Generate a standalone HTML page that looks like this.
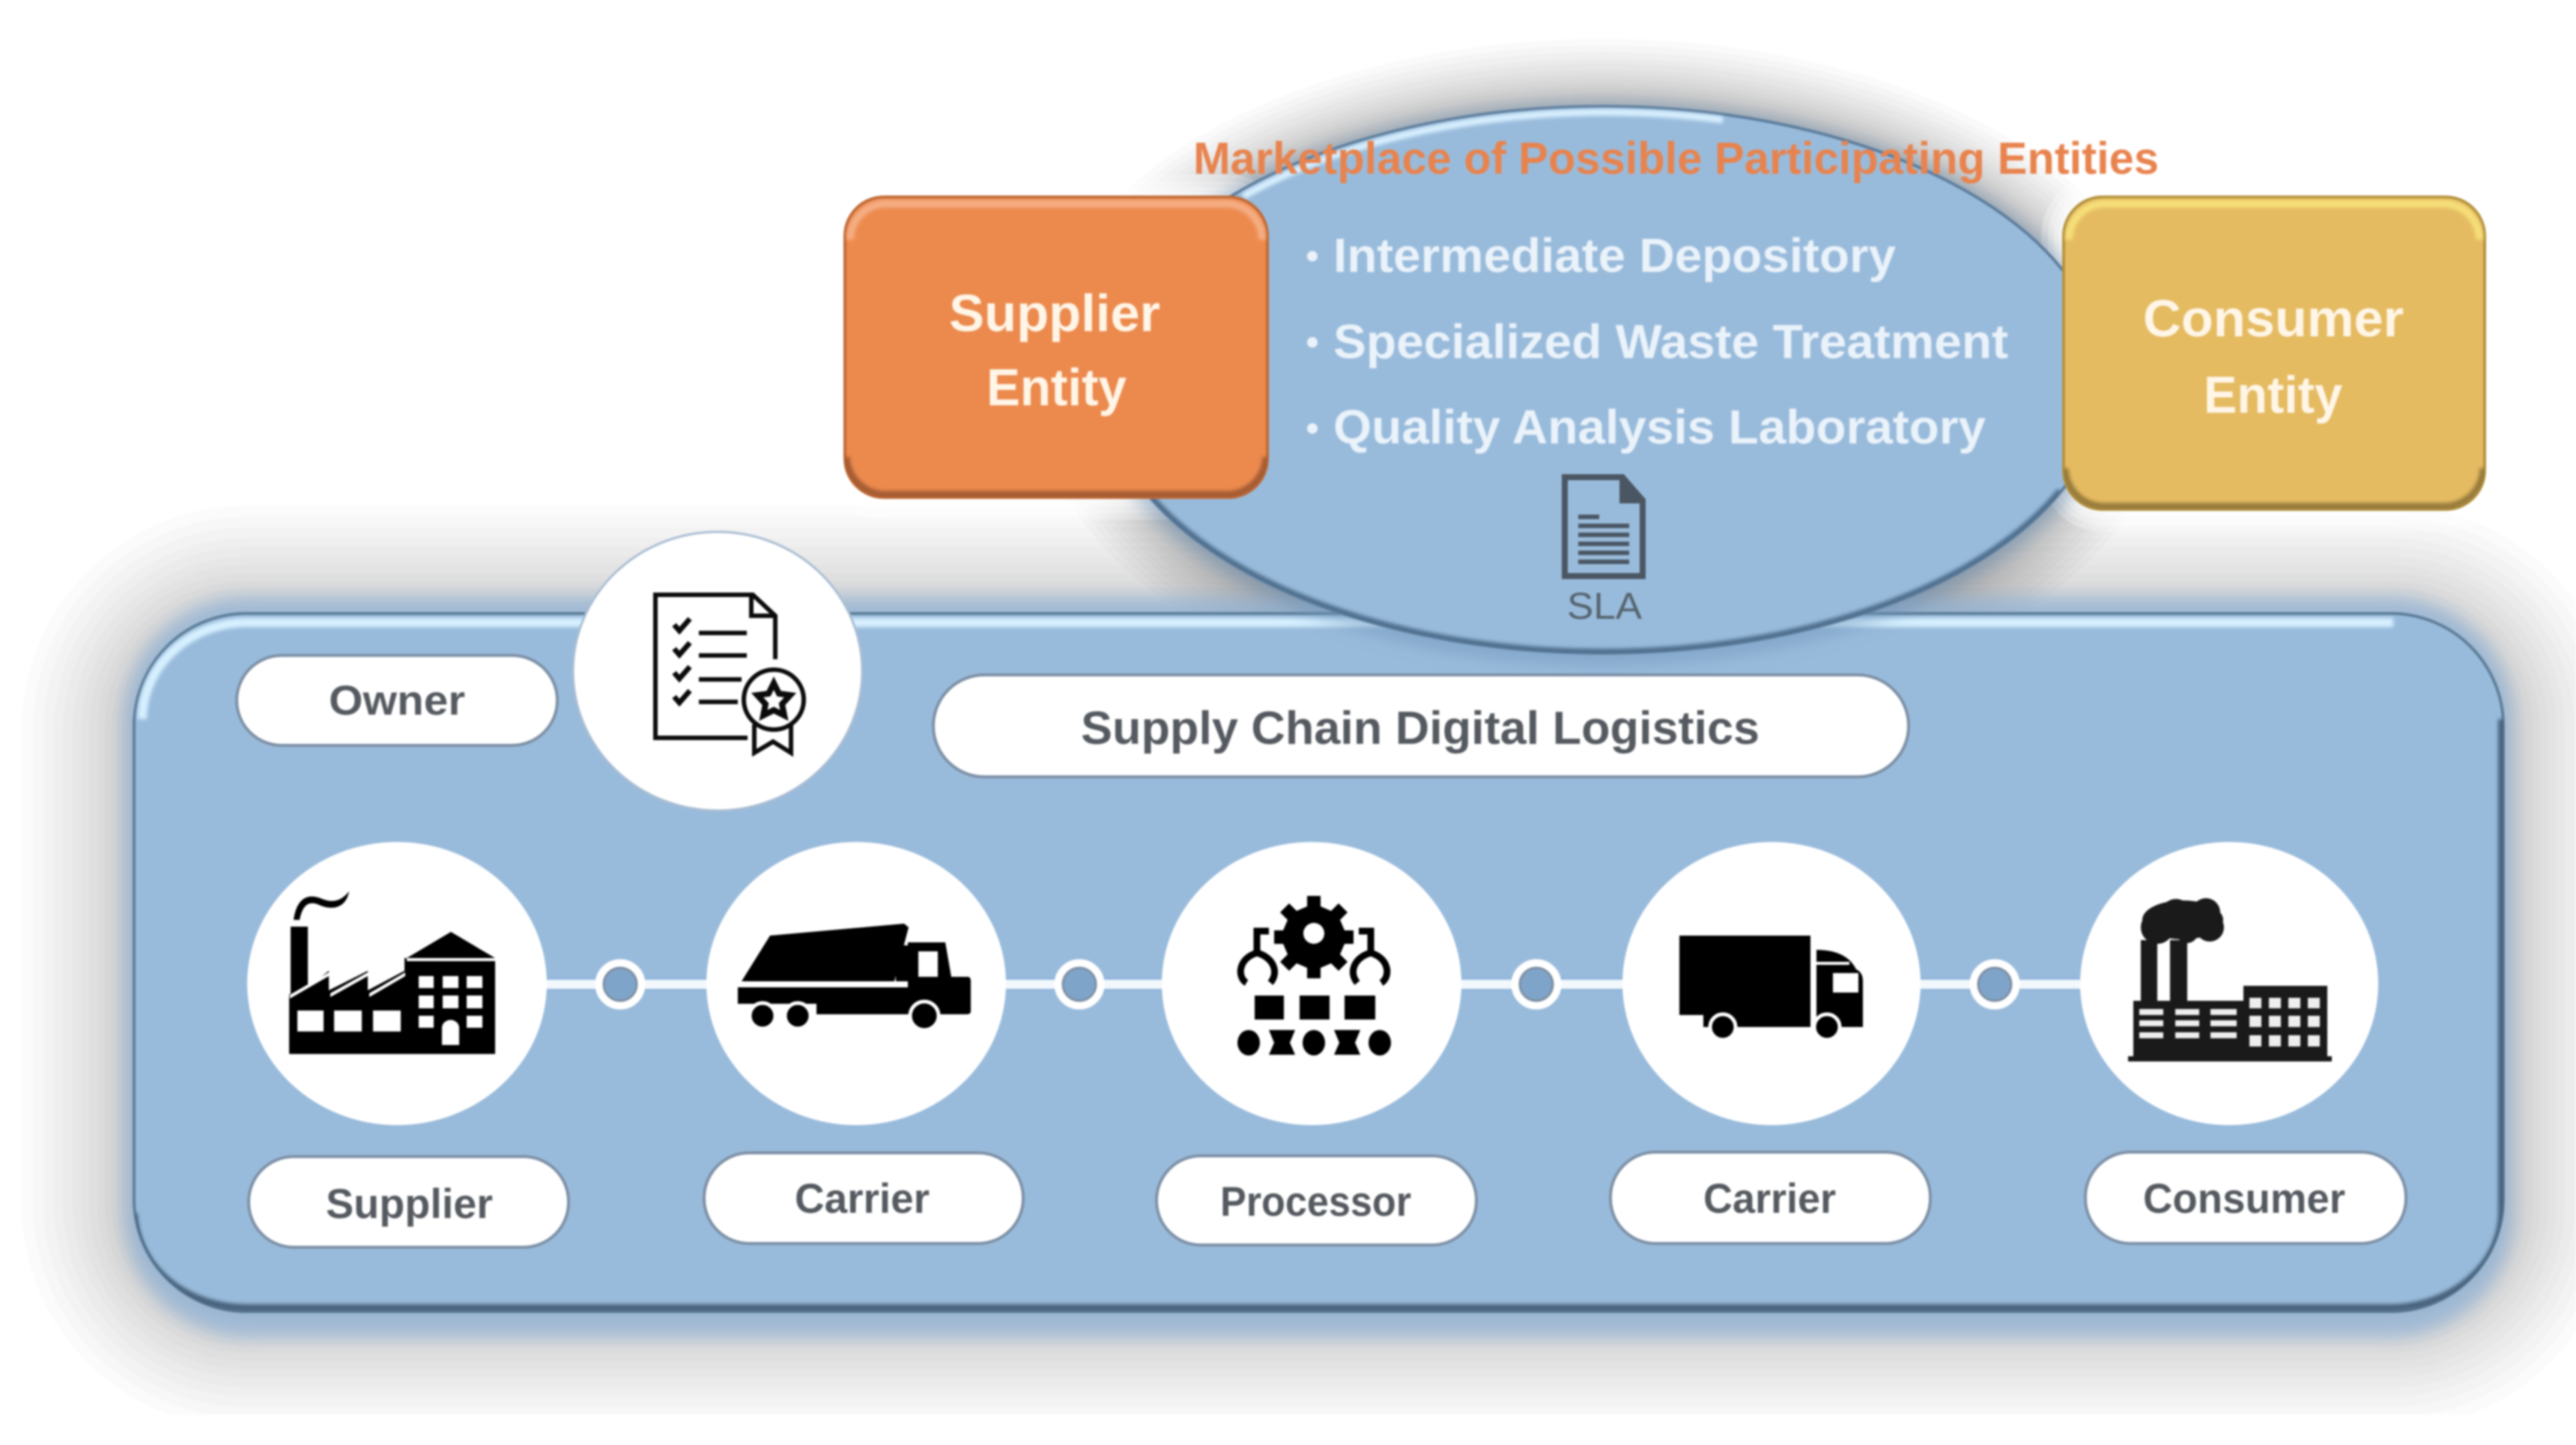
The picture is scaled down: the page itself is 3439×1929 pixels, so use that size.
<!DOCTYPE html>
<html>
<head>
<meta charset="utf-8">
<style>
html,body{margin:0;padding:0;background:#fff;width:3439px;height:1929px;overflow:hidden}
svg{display:block;position:absolute;left:0;top:0;filter:blur(1.3px)}
text{font-family:"Liberation Sans",sans-serif;font-weight:bold}
.lb{fill:#555a60;font-size:56px}
.wt{fill:#eaf2fa;font-size:64px}
.bx{fill:#fff6e8;font-size:70px}
</style>
</head>
<body>
<svg width="3439" height="1929" viewBox="0 0 3439 1929" xmlns="http://www.w3.org/2000/svg">
<defs>
<filter id="b16" filterUnits="userSpaceOnUse" x="-200" y="-200" width="3900" height="2400"><feGaussianBlur stdDeviation="11"/></filter>
<filter id="b3" filterUnits="userSpaceOnUse" x="-200" y="-200" width="3900" height="2400"><feGaussianBlur stdDeviation="2.5"/></filter>
<clipPath id="page"><rect x="0" y="0" width="3439" height="1888"/></clipPath>
<clipPath id="cm"><rect x="179" y="819" width="3163" height="932" rx="150"/></clipPath>
<clipPath id="ce"><ellipse cx="2140" cy="507" rx="670" ry="365"/></clipPath>
<clipPath id="co"><rect x="1128" y="263" width="564" height="401" rx="52"/></clipPath>
<clipPath id="cy"><rect x="2755" y="263" width="562" height="417" rx="52"/></clipPath>
</defs>
<rect width="3439" height="1929" fill="#fff"/>

<!-- soft gray shadows built from concentric strokes -->
<g clip-path="url(#page)" fill="none" stroke="#000" stroke-opacity=".016">
<g>
<rect x="179" y="825" width="3163" height="932" rx="150" stroke-width="3"/>
<rect x="179" y="825" width="3163" height="932" rx="150" stroke-width="10"/>
<rect x="179" y="825" width="3163" height="932" rx="150" stroke-width="20"/>
<rect x="179" y="825" width="3163" height="932" rx="150" stroke-width="32"/>
<rect x="179" y="825" width="3163" height="932" rx="150" stroke-width="46"/>
<rect x="179" y="825" width="3163" height="932" rx="150" stroke-width="60"/>
<rect x="179" y="825" width="3163" height="932" rx="150" stroke-width="80"/>
<rect x="179" y="825" width="3163" height="932" rx="150" stroke-width="98"/>
<rect x="179" y="825" width="3163" height="932" rx="150" stroke-width="120"/>
<rect x="179" y="825" width="3163" height="932" rx="150" stroke-width="142"/>
<rect x="179" y="825" width="3163" height="932" rx="150" stroke-width="164"/>
<rect x="179" y="825" width="3163" height="932" rx="150" stroke-width="190"/>
<rect x="179" y="825" width="3163" height="932" rx="150" stroke-width="214"/>
<rect x="179" y="825" width="3163" height="932" rx="150" stroke-width="242"/>
<rect x="179" y="825" width="3163" height="932" rx="150" stroke-width="270"/>
<rect x="179" y="825" width="3163" height="932" rx="150" stroke-width="300"/>
</g>
<g stroke-opacity=".018">
<ellipse cx="2140" cy="507" rx="670" ry="365" stroke-width="2"/>
<ellipse cx="2140" cy="507" rx="670" ry="365" stroke-width="6"/>
<ellipse cx="2140" cy="507" rx="670" ry="365" stroke-width="12"/>
<ellipse cx="2140" cy="507" rx="670" ry="365" stroke-width="19"/>
<ellipse cx="2140" cy="507" rx="670" ry="365" stroke-width="28"/>
<ellipse cx="2140" cy="507" rx="670" ry="365" stroke-width="36"/>
<ellipse cx="2140" cy="507" rx="670" ry="365" stroke-width="48"/>
<ellipse cx="2140" cy="507" rx="670" ry="365" stroke-width="59"/>
<ellipse cx="2140" cy="507" rx="670" ry="365" stroke-width="72"/>
<ellipse cx="2140" cy="507" rx="670" ry="365" stroke-width="85"/>
<ellipse cx="2140" cy="507" rx="670" ry="365" stroke-width="98"/>
<ellipse cx="2140" cy="507" rx="670" ry="365" stroke-width="114"/>
<ellipse cx="2140" cy="507" rx="670" ry="365" stroke-width="128"/>
<ellipse cx="2140" cy="507" rx="670" ry="365" stroke-width="145"/>
<ellipse cx="2140" cy="507" rx="670" ry="365" stroke-width="162"/>
<ellipse cx="2140" cy="507" rx="670" ry="365" stroke-width="180"/>
</g>
</g>

<!-- white glow around boxes (lifts shadow) -->
<g fill="#fff" stroke="#fff" stroke-opacity=".3">
<rect x="1128" y="263" width="564" height="401" rx="52" stroke-width="12"/>
<rect x="1128" y="263" width="564" height="401" rx="52" stroke-width="26" fill="none"/>
<rect x="1128" y="263" width="564" height="401" rx="52" stroke-width="42" fill="none"/>
<rect x="1128" y="263" width="564" height="401" rx="52" stroke-width="60" fill="none"/>
<rect x="2755" y="263" width="562" height="417" rx="52" stroke-width="12"/>
<rect x="2755" y="263" width="562" height="417" rx="52" stroke-width="26" fill="none"/>
<rect x="2755" y="263" width="562" height="417" rx="52" stroke-width="42" fill="none"/>
<rect x="2755" y="263" width="562" height="417" rx="52" stroke-width="60" fill="none"/>
</g>

<!-- main panel halo -->
<rect x="166" y="797" width="3189" height="988" rx="165" fill="#8fb4da" opacity=".7" filter="url(#b16)"/>

<!-- main panel -->
<rect x="179" y="819" width="3163" height="932" rx="150" fill="#99bbdb" stroke="#5f7f9a" stroke-width="4"/>
<g clip-path="url(#cm)">
<path d="M190,960 A140,130 0 0 1 330,831 L3195,831" fill="none" stroke="#d6f0ff" stroke-width="12" filter="url(#b3)"/>
<path d="M179,1620 A150,128 0 0 0 329,1746 L3192,1746 A150,128 0 0 0 3340,1620 L3340,960" fill="none" stroke="#47627c" stroke-width="10" filter="url(#b3)"/>
</g>

<!-- ellipse -->
<ellipse cx="2140" cy="512" rx="682" ry="376" fill="#6f95bc" opacity=".5" filter="url(#b16)"/>
<ellipse cx="2140" cy="507" rx="670" ry="365" fill="#99bbdb" stroke="#5f7f9e" stroke-width="4"/>
<g clip-path="url(#ce)">
<path d="M1660,262 A665,358 0 0 1 2300,160" fill="none" stroke="#d8f0ff" stroke-width="9" filter="url(#b3)"/>
<path d="M1530,655 A668,363 0 0 0 2750,655" fill="none" stroke="#4e6d8c" stroke-width="8" filter="url(#b3)"/>
</g>

<!-- orange box -->
<rect x="1128" y="263" width="564" height="401" rx="52" fill="#ec8a4e" stroke="#c06a36" stroke-width="4"/>
<g clip-path="url(#co)">
<path d="M1135,320 A48,48 0 0 1 1180,272 L1640,272 A48,48 0 0 1 1685,320" fill="none" stroke="#f5ae84" stroke-width="10" filter="url(#b3)"/>
<path d="M1130,610 A52,52 0 0 0 1180,660 L1640,660 A52,52 0 0 0 1690,610" fill="none" stroke="#a35a30" stroke-width="9" filter="url(#b3)"/>
</g>

<!-- yellow box -->
<rect x="2755" y="263" width="562" height="417" rx="52" fill="#e5bb62" stroke="#b5933f" stroke-width="4"/>
<g clip-path="url(#cy)">
<path d="M2762,320 A48,48 0 0 1 2808,272 L3265,272 A48,48 0 0 1 3310,320" fill="none" stroke="#f6df78" stroke-width="10" filter="url(#b3)"/>
<path d="M2757,625 A52,52 0 0 0 2808,676 L3265,676 A52,52 0 0 0 3315,625" fill="none" stroke="#94793a" stroke-width="9" filter="url(#b3)"/>
</g>

<!-- top text -->
<text x="1593" y="232" font-size="60" fill="#e8834e" textLength="1289" lengthAdjust="spacingAndGlyphs">Marketplace of Possible Participating Entities</text>
<circle cx="1752" cy="342" r="7" fill="#eaf2fa"/>
<circle cx="1752" cy="457" r="7" fill="#eaf2fa"/>
<circle cx="1752" cy="572" r="7" fill="#eaf2fa"/>
<text class="wt" x="1780" y="363" textLength="751" lengthAdjust="spacingAndGlyphs">Intermediate Depository</text>
<text class="wt" x="1780" y="478" textLength="901" lengthAdjust="spacingAndGlyphs">Specialized Waste Treatment</text>
<text class="wt" x="1780" y="592" textLength="871" lengthAdjust="spacingAndGlyphs">Quality Analysis Laboratory</text>
<text class="bx" x="1267" y="442" textLength="282" lengthAdjust="spacingAndGlyphs">Supplier</text>
<text class="bx" x="1317" y="541" textLength="187" lengthAdjust="spacingAndGlyphs">Entity</text>
<text class="bx" x="2861" y="449" textLength="348" lengthAdjust="spacingAndGlyphs">Consumer</text>
<text class="bx" x="2942" y="551" textLength="185" lengthAdjust="spacingAndGlyphs">Entity</text>

<!-- SLA icon -->
<path d="M2089,637 H2166 L2193,668 V769 H2089 Z M2166,637 V668 H2193" fill="none" stroke="#4b5663" stroke-width="8"/>
<path d="M2166,637 L2193,668 H2166 Z" fill="#4b5663"/>
<path d="M2107,690 H2135 M2107,702 H2175 M2107,714 H2175 M2107,726 H2175 M2107,738 H2175 M2107,750 H2175" stroke="#4b5663" stroke-width="6" fill="none"/>
<text x="2092" y="826" font-size="50" style="font-weight:normal" fill="#55646f" textLength="100" lengthAdjust="spacingAndGlyphs">SLA</text>

<!-- connectors -->
<path d="M700,1314 H3000" stroke="#8fb6de" stroke-width="22" opacity=".5" filter="url(#b3)"/>
<path d="M700,1314 H3000" stroke="#f2f8fc" stroke-width="12"/>
<g fill="#7fa4c9" stroke="#fff" stroke-width="11">
<circle cx="828" cy="1314" r="28"/>
<circle cx="1441" cy="1314" r="28"/>
<circle cx="2051" cy="1314" r="28"/>
<circle cx="2663" cy="1314" r="28"/>
</g>
<g fill="none" stroke="#7d8fa3" stroke-width="3">
<circle cx="828" cy="1314" r="22"/>
<circle cx="1441" cy="1314" r="22"/>
<circle cx="2051" cy="1314" r="22"/>
<circle cx="2663" cy="1314" r="22"/>
</g>

<!-- circles -->
<ellipse cx="958" cy="896" rx="193" ry="186" fill="#fff" stroke="#a9bdd3" stroke-width="3"/>
<g fill="#fff">
<ellipse cx="530" cy="1313" rx="200" ry="189"/>
<ellipse cx="1143" cy="1313" rx="200" ry="189"/>
<ellipse cx="1751" cy="1313" rx="200" ry="189"/>
<ellipse cx="2365" cy="1313" rx="199" ry="189"/>
<ellipse cx="2976" cy="1313" rx="199" ry="189"/>
</g>

<!-- pills -->
<g fill="#fff" stroke="#7d90a6" stroke-width="4">
<rect x="316" y="875" width="428" height="120" rx="60"/>
<rect x="1246" y="901" width="1302" height="136" rx="68"/>
<rect x="332" y="1544" width="427" height="121" rx="60"/>
<rect x="940" y="1539" width="426" height="121" rx="60"/>
<rect x="1544" y="1543" width="427" height="119" rx="59"/>
<rect x="2150" y="1538" width="427" height="122" rx="60"/>
<rect x="2784" y="1538" width="428" height="122" rx="60"/>
</g>
<text class="lb" x="439" y="954" textLength="182" lengthAdjust="spacingAndGlyphs">Owner</text>
<text class="lb" x="1443" y="993" style="font-size:62px" textLength="906" lengthAdjust="spacingAndGlyphs">Supply Chain Digital Logistics</text>
<text class="lb" x="435" y="1626" textLength="223" lengthAdjust="spacingAndGlyphs">Supplier</text>
<text class="lb" x="1061" y="1619" textLength="180" lengthAdjust="spacingAndGlyphs">Carrier</text>
<text class="lb" x="1629" y="1623" textLength="255" lengthAdjust="spacingAndGlyphs">Processor</text>
<text class="lb" x="2274" y="1619" textLength="177" lengthAdjust="spacingAndGlyphs">Carrier</text>
<text class="lb" x="2861" y="1619" textLength="270" lengthAdjust="spacingAndGlyphs">Consumer</text>

<!-- owner icon -->
<g fill="none" stroke="#0b0b0b" stroke-width="6">
<path d="M1035,880 V822 L1005,794 H875 V985 H998"/>
<path d="M1003,794 V822 H1035"/>
<path d="M933,845 H997 M933,875 H997 M933,907 H990 M933,937 H985"/>
<path d="M900,834 L907,842 L921,826 M900,866 L907,874 L921,858 M900,898 L907,906 L921,890 M900,930 L907,938 L921,922" stroke-width="7"/>
<circle cx="1033" cy="934" r="40"/>
<path d="M1007,967 V1005 L1032,990 L1056,1005 V967"/>
<path d="M1033,912 L1040,926 L1055,928 L1044,940 L1047,955 L1033,948 L1019,955 L1022,940 L1011,928 L1026,926 Z" stroke-width="8"/>
</g>

<!-- supplier factory -->
<g fill="#000">
<path d="M386,1407 V1328 L388,1326 V1237 H411 V1318 L439,1296 V1322 L491,1296 V1322 L540,1296 V1279 H543 L602,1244 L661,1279 V1407 Z"/>
<path d="M392,1228 C396,1198 412,1192 430,1200 C446,1206 456,1202 466,1190 C462,1212 444,1216 426,1208 C412,1202 404,1208 400,1228 Z"/>
</g>
<g fill="#fff">
<rect x="397" y="1349" width="35" height="28"/><rect x="446" y="1349" width="37" height="28"/><rect x="498" y="1349" width="37" height="28"/>
<rect x="559" y="1303" width="20" height="16"/><rect x="591" y="1303" width="21" height="16"/><rect x="623" y="1303" width="21" height="16"/>
<rect x="559" y="1329" width="20" height="17"/><rect x="591" y="1329" width="21" height="17"/><rect x="623" y="1329" width="21" height="17"/>
<rect x="559" y="1356" width="20" height="16"/><rect x="623" y="1356" width="21" height="16"/>
<path d="M590,1395 V1372 A11,10 0 0 1 613,1372 V1395 Z"/>
<rect x="543" y="1279" width="118" height="4"/>
<path d="M387,1328 L439,1298 L439,1303 L387,1333 Z M441,1326 L491,1298 V1303 L441,1331 Z M493,1326 L541,1298 V1303 L493,1331 Z"/>
</g>

<!-- dump truck -->
<g fill="#000">
<path d="M990,1310 L1028,1249 L1207,1233 L1213,1238 L1194,1310 Z"/>
<path d="M985,1318 H1212 V1258 H1262 L1270,1304 H1292 Q1296,1304 1296,1310 V1350 Q1296,1354 1290,1354 H1255 H1090 V1340 H985 Z"/>
<rect x="1196" y="1262" width="16" height="48"/>
</g>
<rect x="1226" y="1270" width="26" height="34" fill="#fff"/>
<g fill="#000" stroke="#fff" stroke-width="5">
<circle cx="1018" cy="1356" r="17"/>
<circle cx="1065" cy="1356" r="17"/>
<circle cx="1234" cy="1356" r="19"/>
</g>

<!-- processor -->
<g fill="#000">
<circle cx="1754" cy="1246" r="34"/>
<path d="M1754,1246 m-9,-50 h18 v14 l14,6 l10,-10 l12,12 l-10,10 l6,14 h12 v18 h-12 l-6,14 l10,10 l-12,12 l-10,-10 l-14,6 v14 h-18 v-14 l-14,-6 l-10,10 l-12,-12 l10,-10 l-6,-14 h-12 v-18 h12 l6,-14 l-10,-10 l12,-12 l10,10 l14,-6 Z"/>
<rect x="1675" y="1329" width="39" height="32"/><rect x="1735" y="1329" width="40" height="32"/><rect x="1795" y="1329" width="41" height="32"/>
<ellipse cx="1667" cy="1392" rx="15" ry="17"/><ellipse cx="1754" cy="1392" rx="15" ry="17"/><ellipse cx="1842" cy="1392" rx="15" ry="17"/>
<path d="M1694,1375 H1729 L1722,1392 L1729,1408 H1694 L1701,1392 Z M1781,1375 H1816 L1809,1392 L1816,1408 H1781 L1788,1392 Z"/>
</g>
<circle cx="1754" cy="1246" r="14" fill="#fff"/>
<g fill="none" stroke="#000" stroke-width="9">
<path d="M1694,1243 H1678 V1272 C1652,1280 1652,1305 1664,1312 M1678,1272 C1700,1278 1708,1298 1696,1312"/>
<path d="M1814,1243 H1830 V1272 C1856,1280 1856,1305 1844,1312 M1830,1272 C1808,1278 1800,1298 1812,1312"/>
</g>

<!-- box truck -->
<g fill="#000">
<rect x="2242" y="1249" width="175" height="106"/>
<rect x="2274" y="1355" width="143" height="16"/>
<path d="M2425,1268 Q2465,1268 2478,1294 Q2487,1298 2487,1310 V1371 H2425 Z"/>
</g>
<rect x="2425" y="1284" width="44" height="4" fill="#fff"/>
<rect x="2447" y="1299" width="34" height="26" fill="#fff"/>
<g fill="#000" stroke="#fff" stroke-width="5">
<circle cx="2300" cy="1371" r="17"/>
<circle cx="2439" cy="1371" r="17"/>
</g>

<!-- consumer factory -->
<g fill="#1a1a1a">
<rect x="2858" y="1255" width="22" height="84"/>
<rect x="2897" y="1255" width="23" height="84"/>
<rect x="2848" y="1336" width="150" height="76"/>
<rect x="2995" y="1316" width="112" height="96"/>
<rect x="2841" y="1410" width="272" height="7"/>
<ellipse cx="2914" cy="1228" rx="54" ry="26"/><circle cx="2880" cy="1238" r="22"/><circle cx="2905" cy="1220" r="20"/><circle cx="2945" cy="1218" r="19"/><circle cx="2950" cy="1238" r="19"/><circle cx="2920" cy="1245" r="14"/>
</g>
<g fill="#eee">
<rect x="2856" y="1347" width="32" height="8"/><rect x="2904" y="1347" width="32" height="8"/><rect x="2951" y="1347" width="35" height="8"/>
<rect x="2856" y="1362" width="32" height="8"/><rect x="2904" y="1362" width="32" height="8"/><rect x="2951" y="1362" width="35" height="8"/>
<rect x="2856" y="1378" width="32" height="8"/><rect x="2904" y="1378" width="32" height="8"/><rect x="2951" y="1378" width="35" height="8"/>
<rect x="3003" y="1332" width="16" height="14"/><rect x="3029" y="1332" width="16" height="14"/><rect x="3055" y="1332" width="16" height="14"/><rect x="3081" y="1332" width="16" height="14"/>
<rect x="3003" y="1356" width="16" height="15"/><rect x="3029" y="1356" width="16" height="15"/><rect x="3055" y="1356" width="16" height="15"/><rect x="3081" y="1356" width="16" height="15"/>
<rect x="3003" y="1382" width="16" height="15"/><rect x="3029" y="1382" width="16" height="15"/><rect x="3055" y="1382" width="16" height="15"/><rect x="3081" y="1382" width="16" height="15"/>
</g>
</svg>
</body>
</html>
